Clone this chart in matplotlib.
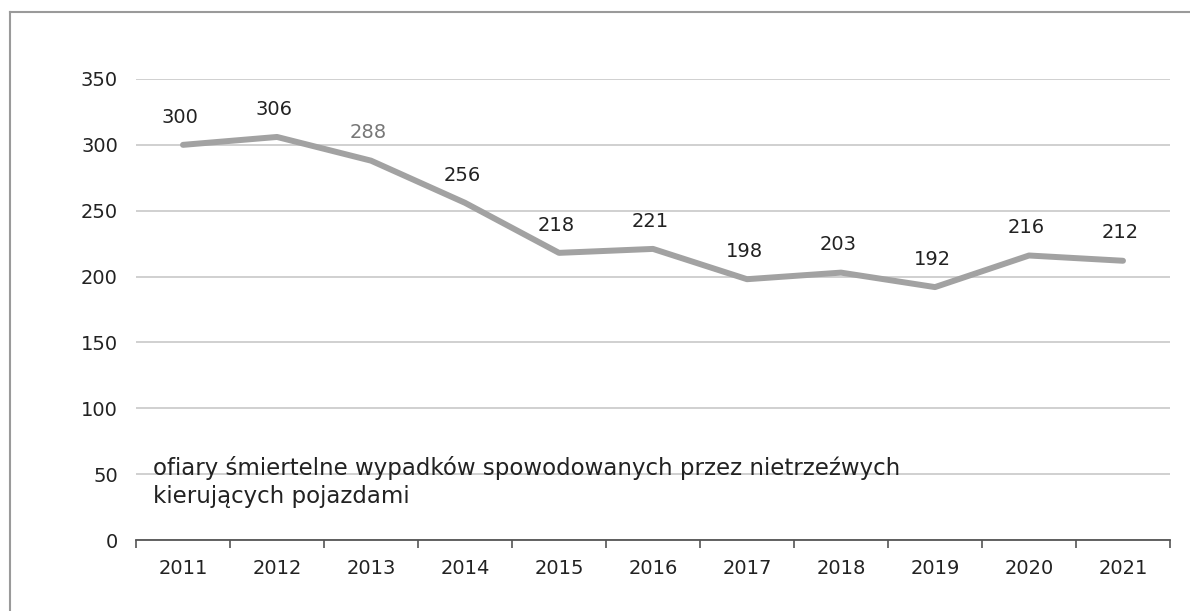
import matplotlib
matplotlib.use("Agg")
import matplotlib.pyplot as plt
from matplotlib.lines import Line2D

years = ["2011", "2012", "2013", "2014", "2015", "2016", "2017", "2018", "2019", "2020", "2021"]
victims = [300, 306, 288, 256, 218, 221, 198, 203, 192, 216, 212]
label_colors = ["#222222", "#222222", "#777777", "#222222", "#222222", "#222222",
                "#222222", "#222222", "#222222", "#222222", "#222222"]
y_ticks = [0, 50, 100, 150, 200, 250, 300, 350]
series_name = "ofiary śmiertelne wypadków spowodowanych przez nietrzeźwych\nkierujących pojazdami"

plt.rcParams["font.family"] = ["DejaVu Sans"]
FS = 14

W, H = 1190, 611
fig = plt.figure(figsize=(W / 100, H / 100), dpi=100)
ax = fig.add_axes([136 / W, 1 - 540 / H, (1170 - 136) / W, (540 - 79) / H])

x = list(range(len(years)))
ax.plot(x, victims, color="#a2a2a2", linewidth=4.3, solid_capstyle="round",
        solid_joinstyle="round", zorder=3)

for xi, v, c in zip(x, victims, label_colors):
    ax.annotate(str(v), (xi, v), xytext=(-2, 20), textcoords="offset points",
                ha="center", va="center", fontsize=FS, color=c)

ax.set_xlim(-0.5, len(years) - 0.5)
ax.set_ylim(0, 350)
ax.set_yticks(y_ticks)
ax.set_yticklabels([str(t) for t in y_ticks], fontsize=FS, color="#222222")
ax.tick_params(axis="y", length=0, pad=13)
ax.grid(axis="y", color="#c8c8c8", linewidth=1.2)
ax.set_axisbelow(True)

# category ticks sit on the boundaries between years
ax.set_xticks([i - 0.5 for i in range(len(years) + 1)], minor=False)
ax.set_xticklabels([""] * (len(years) + 1))
ax.set_xticks(x, minor=True)
ax.set_xticklabels(years, minor=True, fontsize=FS, color="#222222")
ax.tick_params(axis="x", which="major", length=6, width=1.2, color="#555555", direction="out")
ax.tick_params(axis="x", which="minor", length=0, pad=14)

for side in ["top", "right", "left"]:
    ax.spines[side].set_visible(False)
ax.spines["bottom"].set_color("#555555")
ax.spines["bottom"].set_linewidth(1.3)

ax.text(153 / W, 1 - 503 / H, series_name, transform=fig.transFigure,
        fontsize=16.5, color="#222222", ha="left", va="baseline", linespacing=1.25)

# frame around the chart area
fig.add_artist(Line2D([10 / W, 10 / W], [0, 1 - 12 / H], transform=fig.transFigure,
                      color="#9a9a9a", linewidth=1.5))
fig.add_artist(Line2D([10 / W, 1], [1 - 12 / H, 1 - 12 / H], transform=fig.transFigure,
                      color="#9a9a9a", linewidth=1.5))

fig.savefig("out.png", dpi=100)
